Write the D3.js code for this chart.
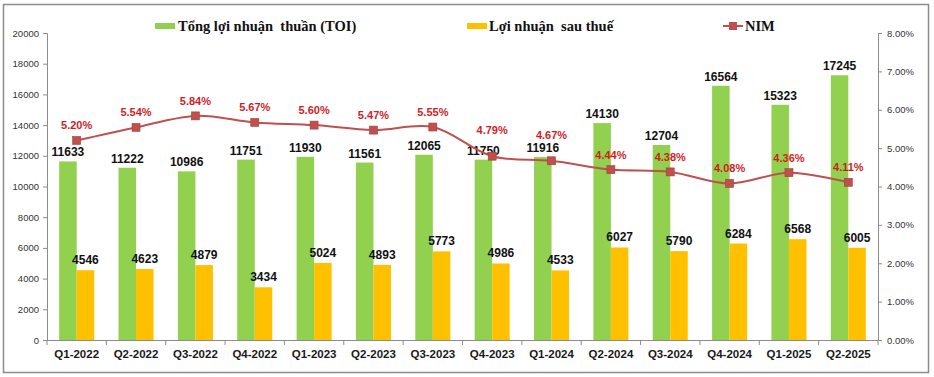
<!DOCTYPE html>
<html>
<head>
<meta charset="utf-8">
<script src="https://cdn.jsdelivr.net/npm/d3@7"></script>
<style>
  body { margin: 0; background: #fff; }
  svg { display: block; font-family: "Liberation Sans", Arial, sans-serif; }
</style>
</head>
<body>
<svg id="chart" width="934" height="377"></svg>
<script>
// data
const quarters = ["Q1-2022", "Q2-2022", "Q3-2022", "Q4-2022", "Q1-2023", "Q2-2023", "Q3-2023",
    "Q4-2023", "Q1-2024", "Q2-2024", "Q3-2024", "Q4-2024", "Q1-2025", "Q2-2025"];
const toi = [11633, 11222, 10986, 11751, 11930, 11561, 12065, 11750, 11916, 14130, 12704, 16564, 15323, 17245];
const profit = [4546, 4623, 4879, 3434, 5024, 4893, 5773, 4986, 4533, 6027, 5790, 6284, 6568, 6005];
const nim = [5.20, 5.54, 5.84, 5.67, 5.60, 5.47, 5.55, 4.79, 4.67, 4.44, 4.38, 4.08, 4.36, 4.11];
const leftTicks = [0, 2000, 4000, 6000, 8000, 10000, 12000, 14000, 16000, 18000, 20000];
const rightTicks = [0, 1, 2, 3, 4, 5, 6, 7, 8];

const green = "#92d050", yellow = "#ffc000", red = "#c0504d", labelRed = "#d01c1f";

let dimensions = {
    width: 934, height: 377,
    margin: { top: 33, bottom: 37, right: 56, left: 47 }
};

const svg = d3.select("#chart");

// outer frame
svg.append("rect")
    .attr("x", 3.5).attr("y", 4.5)
    .attr("width", 925).attr("height", 368)
    .attr("fill", "none")
    .attr("stroke", "#8c8c8c")
    .attr("stroke-width", 1.5);

const x = d3.scaleBand()
    .domain(quarters)
    .range([dimensions.margin.left, dimensions.width - dimensions.margin.right]);

const y = d3.scaleLinear()
    .domain([0, 20000])
    .range([dimensions.height - dimensions.margin.bottom, dimensions.margin.top]);

const yR = d3.scaleLinear()
    .domain([0, 8])
    .range([dimensions.height - dimensions.margin.bottom, dimensions.margin.top]);

const barW = x.bandwidth() * 0.295;

// left axis
const gLeft = svg.append("g")
    .attr("transform", "translate(" + dimensions.margin.left + ",0)")
    .call(d3.axisLeft(y).tickValues(leftTicks).tickSize(4).tickPadding(4)
        .tickFormat(d3.format("d")));

// right axis
const gRight = svg.append("g")
    .attr("transform", "translate(" + (dimensions.width - dimensions.margin.right) + ",0)")
    .call(d3.axisRight(yR).tickValues(rightTicks).tickSize(4).tickPadding(5)
        .tickFormat(d => d.toFixed(2) + "%"));

// bottom axis, ticks on band edges
const gBottom = svg.append("g")
    .attr("transform", "translate(0," + (dimensions.height - dimensions.margin.bottom) + ")")
    .call(d3.axisBottom(x).tickSize(0).tickPadding(10));
gBottom.selectAll("text")
    .attr("font-size", "11.5px")
    .attr("font-weight", "bold")
    .attr("fill", "#1a1a1a");
gBottom.selectAll(".edge")
    .data(d3.range(quarters.length + 1))
    .enter().append("line")
    .attr("x1", i => dimensions.margin.left + i * x.step())
    .attr("x2", i => dimensions.margin.left + i * x.step())
    .attr("y1", 0).attr("y2", 5)
    .attr("stroke", "#8c8c8c");

[gLeft, gRight].forEach(g => {
    g.selectAll("text").attr("font-size", "9.5px").attr("fill", "#333");
});
[gLeft, gRight, gBottom].forEach(g => {
    g.select(".domain").attr("stroke", "#8c8c8c");
    g.selectAll(".tick line").attr("stroke", "#8c8c8c");
});

// bars
svg.append("g").selectAll("rect")
    .data(toi)
    .enter().append("rect")
    .attr("x", (d, i) => x(quarters[i]) + x.bandwidth() / 2 - barW)
    .attr("y", d => y(d))
    .attr("width", barW)
    .attr("height", d => y(0) - y(d))
    .attr("fill", green);

svg.append("g").selectAll("rect")
    .data(profit)
    .enter().append("rect")
    .attr("x", (d, i) => x(quarters[i]) + x.bandwidth() / 2)
    .attr("y", d => y(d))
    .attr("width", barW)
    .attr("height", d => y(0) - y(d))
    .attr("fill", yellow);

// bar labels
svg.append("g").selectAll("text")
    .data(toi)
    .enter().append("text")
    .attr("x", (d, i) => x(quarters[i]) + x.bandwidth() / 2 - barW / 2)
    .attr("y", d => y(d) - 5)
    .attr("text-anchor", "middle")
    .attr("font-size", "12px")
    .attr("font-weight", "bold")
    .attr("fill", "#111")
    .text(d => d);

svg.append("g").selectAll("text")
    .data(profit)
    .enter().append("text")
    .attr("x", (d, i) => x(quarters[i]) + x.bandwidth() / 2 + barW / 2)
    .attr("y", d => y(d) - 6)
    .attr("text-anchor", "middle")
    .attr("font-size", "12px")
    .attr("font-weight", "bold")
    .attr("fill", "#111")
    .text(d => d);

// NIM line
svg.append("path")
    .datum(nim)
    .attr("fill", "none")
    .attr("stroke", red)
    .attr("stroke-width", 2)
    .attr("d", d3.line()
        .x((d, i) => x(quarters[i]) + x.bandwidth() / 2)
        .y(d => yR(d))
        .curve(d3.curveCatmullRom.alpha(0.5)));

svg.append("g").selectAll("rect")
    .data(nim)
    .enter().append("rect")
    .attr("x", (d, i) => x(quarters[i]) + x.bandwidth() / 2 - 4)
    .attr("y", d => yR(d) - 4)
    .attr("width", 8).attr("height", 8)
    .attr("fill", red)
    .attr("stroke", "#a33f3c")
    .attr("stroke-width", 0.6);

svg.append("g").selectAll("text")
    .data(nim)
    .enter().append("text")
    .attr("x", (d, i) => x(quarters[i]) + x.bandwidth() / 2)
    .attr("y", (d, i) => yR(d) - (i === 7 || i === 8 ? 22 : 11))
    .attr("text-anchor", "middle")
    .attr("font-size", "11px")
    .attr("font-weight", "bold")
    .attr("fill", labelRed)
    .text(d => d.toFixed(2) + "%");

// legend
const legend = svg.append("g")
    .attr("font-family", "'Liberation Serif', 'Times New Roman', serif")
    .attr("font-size", "14.5px")
    .attr("font-weight", "bold")
    .attr("fill", "#111");

legend.append("rect").attr("x", 155).attr("y", 23).attr("width", 20).attr("height", 6).attr("fill", green);
legend.append("text").attr("x", 178).attr("y", 31).text("Tổng lợi nhuận  thuần (TOI)")
    .style("white-space", "pre");

legend.append("rect").attr("x", 467).attr("y", 23).attr("width", 20).attr("height", 6).attr("fill", yellow);
legend.append("text").attr("x", 489).attr("y", 31).text("Lợi nhuận  sau thuế")
    .style("white-space", "pre");

legend.append("line").attr("x1", 723).attr("x2", 743).attr("y1", 26).attr("y2", 26)
    .attr("stroke", red).attr("stroke-width", 2);
legend.append("rect").attr("x", 729).attr("y", 22).attr("width", 8).attr("height", 8).attr("fill", red);
legend.append("text").attr("x", 745).attr("y", 31).text("NIM");
</script>
</body>
</html>
